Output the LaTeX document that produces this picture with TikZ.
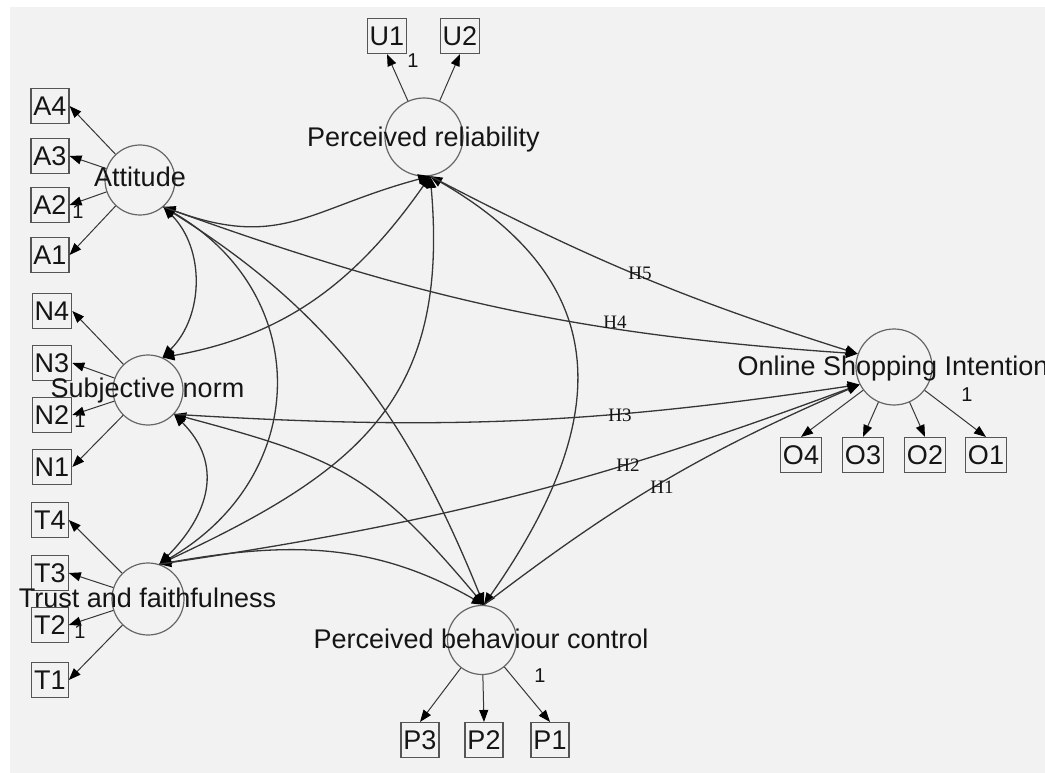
\documentclass[tikz,border=0pt]{standalone}
\usepackage{fontspec}
\setmainfont{Liberation Sans}
\newfontfamily\hfont{Liberation Serif}
\usetikzlibrary{arrows.meta}
\definecolor{bgc}{HTML}{F2F2F2}
\definecolor{circc}{HTML}{666666}
\definecolor{boxc}{HTML}{555555}
\definecolor{lnc}{HTML}{363636}
\definecolor{txt}{HTML}{151515}
\begin{document}
\begin{tikzpicture}[x=1pt,y=1pt,
  latent/.style={circle,draw=circc,line width=1.2pt,minimum size=70pt,inner sep=0pt},
  lbl/.style={font=\fontsize{27}{30}\selectfont,text=txt,inner sep=0pt,anchor=base},
  ind/.style={rectangle,draw=boxc,line width=1.1pt,font=\fontsize{27}{30}\selectfont,text=txt,inner xsep=2.5pt,inner ysep=0pt,minimum height=35pt},
  load/.style={draw=lnc,line width=1pt,-{Triangle[length=12pt,width=9pt,black]}},
  cov/.style={draw=lnc,line width=1.3pt,{Triangle[length=12pt,width=10pt,black]}-{Triangle[length=12pt,width=10pt,black]}},
  reg/.style={draw=lnc,line width=1.3pt,-{Triangle[length=12pt,width=10pt,black]}},
  one/.style={font=\fontsize{20}{22}\selectfont,text=txt,inner sep=0pt},
  hl/.style={font=\hfont\fontsize{19}{21}\selectfont,text=txt,inner sep=0pt}
]
\fill[white] (0,0) rectangle (1045,-773);
\fill[bgc] (10,-7) rectangle (1045,-773);
\useasboundingbox (0,0) rectangle (1045,-773);
\clip (0,0) rectangle (1045,-773);

% latent variables
\node[latent,minimum size=70pt] (Att) at (140,-180) {};
\node[latent,minimum size=78pt] (PR) at (424,-137) {};
\node[latent] (SN) at (148,-390) {};
\node[latent,minimum size=72pt] (TF) at (148,-599) {};
\node[latent,minimum size=69pt] (PBC) at (482,-640) {};
\node[latent,minimum size=76pt] (OSI) at (894,-367) {};

% indicators
\node[ind] (A4) at (50,-106) {A4};
\node[ind] (A3) at (50,-156) {A3};
\node[ind] (A2) at (50,-205) {A2};
\node[ind] (A1) at (50,-255) {A1};
\node[ind] (N4) at (52,-311) {N4};
\node[ind] (N3) at (52,-363) {N3};
\node[ind] (N2) at (52,-415) {N2};
\node[ind] (N1) at (52,-467) {N1};
\node[ind] (T4) at (50,-520) {T4};
\node[ind] (T3) at (50,-573) {T3};
\node[ind] (T2) at (50,-625) {T2};
\node[ind] (T1) at (50,-680) {T1};
\node[ind] (U1) at (387,-36) {U1};
\node[ind] (U2) at (460,-36) {U2};
\node[ind] (P3) at (420,-740) {P3};
\node[ind] (P2) at (484,-740) {P2};
\node[ind] (P1) at (550,-740) {P1};
\node[ind] (O4) at (801,-455) {O4};
\node[ind] (O3) at (863,-455) {O3};
\node[ind] (O2) at (925,-455) {O2};
\node[ind] (O1) at (986,-455) {O1};

% loadings
\foreach \i in {A4,A3,A2,A1} \draw[load] (Att) -- (\i.east);
\foreach \i in {N4,N3,N2,N1} \draw[load] (SN) -- (\i.east);
\foreach \i in {T4,T3,T2,T1} \draw[load] (TF) -- (\i.east);
\foreach \i in {U1,U2} \draw[load] (PR) -- (\i.south);
\foreach \i in {P3,P2,P1} \draw[load] (PBC) -- (\i.north);
\foreach \i in {O4,O3,O2,O1} \draw[load] (OSI) -- (\i.north);

% covariances
\draw[cov] (Att.-49) to[out=-20,in=195,looseness=1.2] (PR.-81);
\draw[cov] (Att.-49) to[out=-45,in=45] (SN.66);
\draw[cov] (SN.66) to[out=10,in=235] (PR.-81);
\draw[cov] (Att.-49) to[out=-30,in=30,looseness=1.25] (TF.72);
\draw[cov] (Att.-49) to[out=-32,in=112] (PBC.87);
\draw[cov] (SN.-43) to[out=-45,in=45,looseness=1.2] (TF.72);
\draw[cov] (SN.-43) to[out=-15,in=130,looseness=1.2] (PBC.87);
\draw[cov] (TF.72) to[out=25,in=-85,looseness=1.2] (PR.-81);
\draw[cov] (TF.72) to[out=10,in=150] (PBC.87);
\draw[cov] (PR.-81) to[out=-30,in=55,looseness=1.3] (PBC.87);

% structural paths
\draw[reg] (PR.-81) to[bend right=5] (OSI.160);
\draw[reg] (Att.-49) to[bend right=8] (OSI.160);
\draw[reg] (SN.-43) to[bend right=6] (OSI.207);
\draw[reg] (TF.72) to[bend right=6] (OSI.207);
\draw[reg] (PBC.87) to[bend left=7] (OSI.207);

% path labels
\node[hl] (h5) at (640,-273) {H5};
\node[hl] (h4) at (615,-322) {H4};
\node[hl] (h3) at (620,-415) {H3};
\node[hl] (h2) at (628,-465) {H2};
\node[hl] (h1) at (662,-487) {H1};

% fixed loading labels
\node[one] (f1) at (78,-212) {1};
\node[one] (f2) at (80,-421) {1};
\node[one] (f3) at (80,-632) {1};
\node[one] (f4) at (413,-61) {1};
\node[one] (f5) at (540,-676) {1};
\node[one] (f6) at (967,-395) {1};

% latent labels
\node[lbl] (lAtt) at (140,-187) {Attitude};
\node[lbl] (lPR) at (423.5,-147) {Perceived reliability};
\node[lbl] (lSN) at (147.5,-397.5) {Subjective norm};
\node[lbl] (lTF) at (147.5,-607) {Trust and faithfulness};
\node[lbl] (lPBC) at (481,-648.5) {Perceived behaviour control};
\node[lbl] (lOSI) at (893,-375) {Online Shopping Intention};
\end{tikzpicture}
\end{document}
